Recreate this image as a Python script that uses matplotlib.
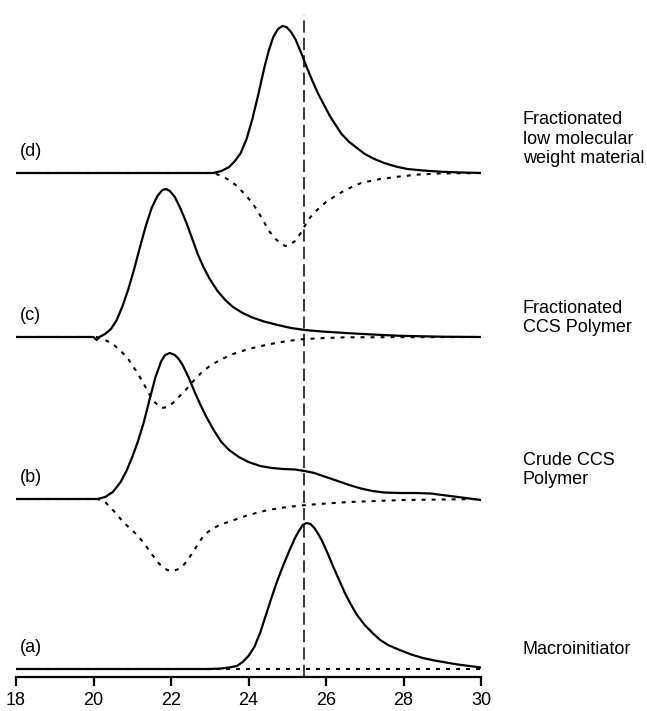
"""GPC traces: RI (solid) and UV (dotted) for the CCS polymer samples"""
import matplotlib.pyplot as plt

plt.rcParams['font.family'] = ['Liberation Sans', 'DejaVu Sans']

# elution volume / signal relative to baseline
# (a) Macroinitiator
a_x = [18, 23.0, 23.3, 23.5, 23.7, 23.85, 24.0, 24.15, 24.3, 24.45, 24.6, 24.75, 24.9,
       25.05, 25.2, 25.3, 25.4, 25.5, 25.6, 25.7, 25.8, 25.9, 26.05, 26.2, 26.35,
       26.5, 26.65, 26.8, 27.0, 27.2, 27.4, 27.6, 27.9, 28.2, 28.5, 28.8, 29.1,
       29.4, 29.7, 30]
a_ri = [0, 0, 0.5, 1.5, 3, 7, 13, 22, 36, 54, 72, 89, 104,
        118, 131, 138, 144, 146, 145, 141, 135, 128, 115, 101, 88,
        75, 64, 54, 44, 36, 29, 24, 19, 14.5, 11, 8.5, 6.5,
        4.5, 3, 1.5]
a_uv_x = [18, 30]
a_uv = [0, 0]

# (b) Crude CCS polymer
b_x = [18, 20.1, 20.3, 20.5, 20.7, 20.85, 21.0, 21.15, 21.3, 21.45, 21.6, 21.75,
       21.85, 21.97, 22.1, 22.2, 22.3, 22.45, 22.6, 22.75, 22.9, 23.1, 23.3, 23.5,
       23.75, 24.0, 24.3, 24.6, 24.9, 25.2, 25.45, 25.7, 26.0, 26.3, 26.6, 26.9,
       27.2, 27.5, 27.9, 28.3, 28.7, 29.0, 29.4, 29.7, 30]
b_ri = [0, 0, 2, 7, 17, 28, 42, 58, 77, 100, 122, 138,
        144, 146, 144, 140, 134, 122, 108, 95, 83, 69, 57, 49,
        42, 37, 33, 31, 30, 29.5, 28, 26, 22, 18, 14, 10.5,
        8, 6.5, 6, 6, 5.5, 4, 2, 0.5, -1]
b_uv_x = [18, 20.1, 20.3, 20.5, 20.7, 20.9, 21.1, 21.3, 21.5, 21.7, 21.9, 22.05,
          22.2, 22.35, 22.5, 22.65, 22.8, 22.95, 23.15, 23.4, 23.7, 24.0, 24.5,
          25.0, 25.5, 26.0, 26.6, 27.3, 28.0, 29.0, 30]
b_uv = [0, 0, -3, -11, -20, -28, -35, -44, -55, -65, -71, -72,
        -70, -65, -57, -48, -39, -33, -28, -24, -20, -16, -11,
        -8, -6, -4.5, -3, -2, -1, -0.5, 0]

# (c) Fractionated CCS polymer
c_x = [18, 20.0, 20.08, 20.15, 20.3, 20.45, 20.6, 20.75, 20.9, 21.05, 21.2, 21.35,
       21.5, 21.65, 21.78, 21.87, 21.97, 22.1, 22.25, 22.4, 22.55, 22.7, 22.85,
       23.0, 23.2, 23.4, 23.6, 23.85, 24.1, 24.4, 24.75, 25.1, 25.45, 25.9, 26.5,
       27.2, 27.9, 29.0, 30]
c_ri = [0, 0, -3, 0, 3, 8, 17, 31, 48, 68, 90, 111,
        129, 141, 147, 148, 146, 140, 128, 114, 98, 82, 69,
        58, 46, 37, 30, 24, 19.5, 15.5, 12, 9, 7, 5.5, 4,
        2.5, 1.2, 0.3, 0]
c_uv_x = [18, 20.08, 20.3, 20.5, 20.7, 20.86, 21.0, 21.15, 21.3, 21.45, 21.6, 21.77,
          21.9, 22.05, 22.2, 22.4, 22.6, 22.8, 23.0, 23.26, 23.6, 24.0, 24.5, 25.0,
          25.45, 26.0, 26.5, 30]
c_uv = [0, 0, -3, -7, -14, -20, -28, -37, -47, -58, -66, -71,
        -70, -66, -60, -52, -43, -35, -29, -23, -17, -12, -7.5, -4,
        -2, -1, -0.3, 0]

# (d) Fractionated low molecular weight material
d_x = [18, 23.1, 23.3, 23.5, 23.65, 23.8, 23.95, 24.1, 24.25, 24.4, 24.52, 24.64,
       24.76, 24.88, 24.98, 25.1, 25.22, 25.35, 25.5, 25.65, 25.8, 25.95, 26.1,
       26.25, 26.4, 26.6, 26.8, 27.0, 27.25, 27.5, 27.8, 28.1, 28.5, 29.0, 29.5, 30]
d_ri = [0, 0, 2, 6, 12, 20, 34, 54, 78, 104, 122, 136,
        144, 147, 146, 141, 133, 121, 106, 92, 79, 68, 57,
        48, 39, 31, 25, 19, 14, 10, 6.5, 4, 2.5, 1.2, 0.5, 0]
d_uv_x = [18, 23.1, 23.3, 23.5, 23.7, 23.9, 24.1, 24.25, 24.4, 24.55, 24.7, 24.85,
          24.95, 25.05, 25.2, 25.35, 25.45, 25.6, 25.77, 26.0, 26.2, 26.5, 26.9,
          27.4, 27.9, 28.4, 28.9, 30]
d_uv = [0, 0, -3, -7, -13, -21, -30, -39, -49, -59, -66, -71,
        -73, -72, -68, -60, -53, -44, -37, -29, -24, -17, -10,
        -6, -3.5, -1.5, -0.5, 0]

tags = ['(a)', '(b)', '(c)', '(d)']
names = ['Macroinitiator', 'Crude CCS\nPolymer', 'Fractionated\nCCS Polymer',
         'Fractionated\nlow molecular\nweight material']
ref_peak = 25.43
xticks = [18, 20, 22, 24, 26, 28, 30]

# layout: vertical offset of each trace and of its right-hand name
offsets = [8, 178, 340, 504]
name_dy = [19, 29, 19, 34]

fig = plt.figure(figsize=(6.47, 7.11), dpi=100)
ax = fig.add_axes([16 / 647, 34 / 711, 465 / 647, 677 / 711])

traces = [(a_x, a_ri, a_uv_x, a_uv), (b_x, b_ri, b_uv_x, b_uv),
          (c_x, c_ri, c_uv_x, c_uv), (d_x, d_ri, d_uv_x, d_uv)]
for (xs, ri, ux, uv), off, tag, name, dy in zip(traces, offsets, tags, names, name_dy):
    ax.plot(ux, [v + off for v in uv], color='black', lw=1.5,
            linestyle=(0, (1.9, 2.9)), solid_capstyle='butt')
    ax.plot(xs, [v + off for v in ri], color='black', lw=1.6, solid_joinstyle='round')
    ax.text(18.1, off + 22, tag, fontsize=13, ha='left', va='center')
    ax.text(31.08, off + dy, name, fontsize=13, ha='left', va='center',
            linespacing=1.2, clip_on=False)

ax.vlines(ref_peak, 0, 662, color='black', lw=1.1, linestyles=[(0, (8.0, 3.4))])

ax.set_xlim(18, 30)
ax.set_ylim(0, 677)
ax.set_xticks(xticks)
ax.set_yticks([])
for s in ['left', 'right', 'top']:
    ax.spines[s].set_visible(False)
ax.spines['bottom'].set_linewidth(1.6)
ax.tick_params(axis='x', direction='out', length=6.5, width=1.6, pad=4, labelsize=13)

fig.savefig('out.png', dpi=100)
